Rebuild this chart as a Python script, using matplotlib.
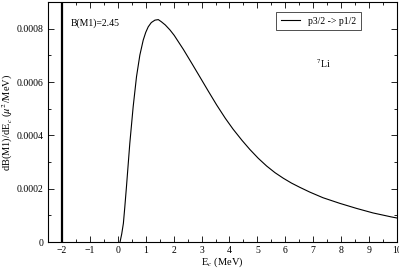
import matplotlib
matplotlib.use("Agg")
import matplotlib.pyplot as plt
from matplotlib.ticker import MultipleLocator, FuncFormatter

# values (7Li, p3/2 -> p1/2)
energy = [0.08, 0.14, 0.20, 0.25, 0.31, 0.43, 0.55, 0.67, 0.79, 0.91, 1.00,
          1.09, 1.20, 1.33, 1.45, 1.56, 1.70, 1.87, 2.02, 2.35, 2.65, 2.94,
          3.24, 3.54, 3.85, 4.13, 4.45, 4.73, 5.03, 5.33, 5.63, 5.93, 6.22,
          6.52, 6.88, 7.35, 7.95, 8.55, 9.14, 9.80, 10.0]
dbde = [0.0, 0.000030, 0.000070, 0.000130, 0.000207, 0.000370, 0.000507,
        0.000620, 0.000701, 0.000757, 0.000786, 0.000807, 0.000823, 0.000832,
        0.000834, 0.000826, 0.000814, 0.000795, 0.000775, 0.000722, 0.000670,
        0.000619, 0.000566, 0.000514, 0.000464, 0.000423, 0.000381, 0.000347,
        0.000314, 0.000285, 0.000260, 0.000239, 0.000221, 0.000205, 0.000187,
        0.000166, 0.000145, 0.000126, 0.000109, 0.000094, 0.000090]

marker_x = -2.0
total_strength = "B(M1)=2.45"
legend_label = "p3/2 -> p1/2"

plt.rcParams['font.family'] = ['Liberation Serif', 'DejaVu Serif']
plt.rcParams['mathtext.fontset'] = 'stix'

fig = plt.figure(figsize=(3.99, 2.68), dpi=100)
ax = fig.add_axes([0.1203, 0.097, 0.8747, 0.8955])

ax.plot(energy, dbde, color='black', lw=0.8, label=legend_label)
ax.axvline(marker_x, color='black', lw=1.6)

ax.set_xlim(-2.5, 10)
ax.set_ylim(0, 0.0009)
ax.xaxis.set_major_locator(MultipleLocator(1))
ax.xaxis.set_minor_locator(MultipleLocator(0.5))
ax.yaxis.set_major_locator(MultipleLocator(0.0002))
ax.yaxis.set_minor_locator(MultipleLocator(0.0001))
ax.yaxis.set_major_formatter(FuncFormatter(lambda v, p: "0" if abs(v) < 1e-12 else f"{v:.4f}"))
ax.tick_params(which='both', direction='in', top=True, right=True, labelsize=7, width=0.6)
ax.tick_params(which='major', length=4, pad=3)
ax.tick_params(which='minor', length=2)
for s in ax.spines.values():
    s.set_linewidth(0.8)

ax.set_xlabel("E$_c$ (MeV)", fontsize=7.5, labelpad=0)
ax.set_ylabel(r"dB(M1)/dE$_c$ ($\mu^2$/MeV)", fontsize=7.5, labelpad=1)

ax.text(-1.68, 0.00082, total_strength, fontsize=7, va='center')
ax.text(7.1, 0.00067, r"$^7$Li", fontsize=7, va='center')

leg = ax.legend(loc='upper right', bbox_to_anchor=(0.91, 0.98), fontsize=7,
                frameon=True, fancybox=False, edgecolor='black',
                handlelength=2.0, borderpad=0.5)
leg.get_frame().set_linewidth(0.6)

fig.savefig("out.png", dpi=100)
